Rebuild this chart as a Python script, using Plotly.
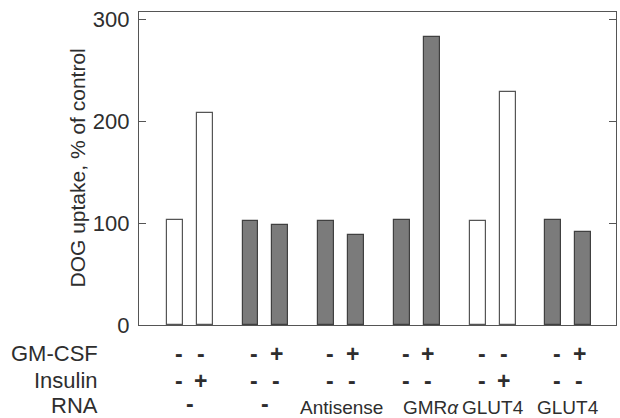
import plotly.graph_objects as go

# ---- data ----
uptake = [103, 208, 102, 98, 102, 88, 103, 282, 102, 229, 103, 91]
gmcsf = ["-", "-", "-", "+", "-", "+", "-", "+", "-", "-", "-", "+"]
insulin = ["-", "+", "-", "-", "-", "-", "-", "-", "-", "+", "-", "-"]
rna = ["-", "-", "Antisense", "GMR<i>α</i>", "GLUT4", "GLUT4"]
open_bar = [True, True, False, False, False, False, False, False, True, True, False, False]
row_labels = ["GM-CSF", "Insulin", "RNA"]
y_ticks = [0, 100, 200, 300]

# ---- layout constants ----
W, H = 620, 418
ML, MR, MT, MB = 139, 4, 12, 93
plot_w = W - ML - MR
plot_h = H - MT - MB
OFF = 0.198
SIGN_OFF = 0.145


def py(p):  # pixel y -> paper y
    return (H - MB - p) / plot_h


def pxp(p):  # pixel x -> paper x
    return (p - ML) / plot_w


bar_x = [i // 2 + (-OFF if i % 2 == 0 else OFF) for i in range(len(uptake))]
fills = ["white" if o else "#7b7b7b" for o in open_bar]
lines = ["#555555" if o else "#404040" for o in open_bar]

fig = go.Figure()
fig.add_trace(go.Bar(
    x=bar_x, y=uptake, width=0.21,
    marker=dict(color=fills, line=dict(color=lines, width=1.2)),
    showlegend=False, hoverinfo="skip",
))

TXT = "#2e2e2e"
FONT = "Liberation Sans, Arial, sans-serif"
SIGN_FONT = dict(size=23, color=TXT, family=FONT)
ann = []
# row labels
for lab, yp in zip(row_labels, [353, 380, 405]):
    ann.append(dict(x=pxp(100), y=py(yp), xref="paper", yref="paper", text=lab,
                    xanchor="right", yanchor="middle", showarrow=False,
                    font=dict(size=22, color=TXT, family=FONT)))
# signs
for i in range(len(uptake)):
    g = i // 2
    sx = g + (-SIGN_OFF if i % 2 == 0 else SIGN_OFF)
    for sym, yp in ((gmcsf[i], 354), (insulin[i], 381)):
        ann.append(dict(x=sx, y=py(yp), xref="x", yref="paper", text="<b>%s</b>" % sym,
                        xanchor="center", yanchor="middle", showarrow=False,
                        font=SIGN_FONT))
# RNA labels
for g, lab in enumerate(rna):
    if lab == "-":
        ann.append(dict(x=g, y=py(404), xref="x", yref="paper", text="<b>-</b>",
                        xanchor="center", yanchor="middle", showarrow=False,
                        font=SIGN_FONT))
    else:
        shift = 14 if "GMR" in lab else 0
        ann.append(dict(x=g, y=py(407.5), xref="x", yref="paper", text=lab,
                        xanchor="center", yanchor="middle", showarrow=False, xshift=shift,
                        font=dict(size=19, color=TXT, family=FONT)))
# y title
ann.append(dict(x=pxp(77), y=0.5, xref="paper", yref="paper",
                text="DOG uptake, % of control", textangle=-90,
                xanchor="center", yanchor="middle", showarrow=False,
                font=dict(size=21, color=TXT, family=FONT)))

fig.update_layout(
    width=W, height=H,
    margin=dict(l=ML, r=MR, t=MT, b=MB),
    paper_bgcolor="white", plot_bgcolor="white",
    annotations=ann,
    xaxis=dict(range=[-0.67, 5.63], showticklabels=False, ticks="", showgrid=False,
               zeroline=False, showline=True, linecolor="#555555", linewidth=1.3, mirror=True),
    yaxis=dict(range=[0, 307], tickvals=y_ticks, ticks="inside", ticklen=7, tickwidth=1.3,
               tickcolor="#555555", showgrid=False, zeroline=False, showline=True,
               linecolor="#555555", linewidth=1.3, mirror="ticks",
               tickfont=dict(size=22, color=TXT, family=FONT), ticklabelstandoff=4),
    bargap=0,
)

fig.write_html("out.html", config={"displayModeBar": False},
               post_script="document.body.style.margin='0';document.body.style.overflow='hidden';")
